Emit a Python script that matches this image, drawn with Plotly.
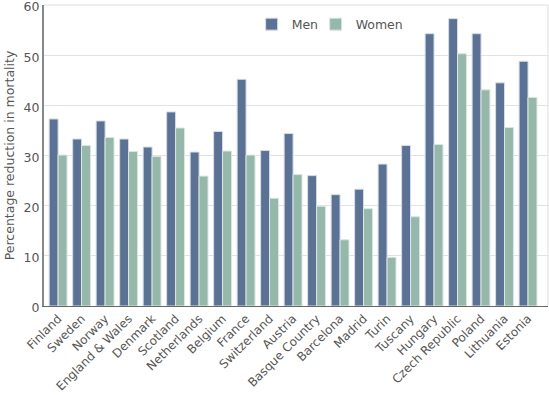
import plotly.graph_objects as go

countries = ["Finland", "Sweden", "Norway", "England & Wales", "Denmark", "Scotland",
             "Netherlands", "Belgium", "France", "Switzerland", "Austria", "Basque Country",
             "Barcelona", "Madrid", "Turin", "Tuscany", "Hungary", "Czech Republic",
             "Poland", "Lithuania", "Estonia"]
men = [37.3, 33.3, 36.9, 33.3, 31.7, 38.7, 30.7, 34.8, 45.2, 31.0, 34.4, 26.0,
       22.2, 23.3, 28.3, 32.0, 54.3, 57.3, 54.3, 44.5, 48.8]
women = [30.1, 32.0, 33.6, 30.8, 29.8, 35.5, 25.9, 30.9, 30.1, 21.5, 26.2, 19.9,
         13.2, 19.4, 9.7, 17.8, 32.2, 50.3, 43.1, 35.6, 41.6]
y_ticks = [0, 10, 20, 30, 40, 50, 60]

FONT = "DejaVu Sans, Verdana, sans-serif"
MEN_C = "#5b7295"
WOMEN_C = "#96b8ab"

fig = go.Figure()
fig.add_trace(go.Bar(name="Men", x=countries, y=men, legend="legend",
                     marker=dict(color=MEN_C, line=dict(color="#d6dde8", width=1))))
fig.add_trace(go.Bar(name="Women", x=countries, y=women, legend="legend2",
                     marker=dict(color=WOMEN_C, line=dict(color="#d9e6e1", width=1))))

leg_common = dict(orientation="h", y=0.985, xanchor="left", yanchor="top",
                  font=dict(size=12.5, color="#555555"), bgcolor="rgba(0,0,0,0)")

fig.update_layout(
    width=549, height=395,
    margin=dict(l=44, r=1, t=5, b=89, autoexpand=False),
    paper_bgcolor="white", plot_bgcolor="white",
    barmode="group", bargap=0.24, bargroupgap=0.0,
    font=dict(family=FONT, color="#555555"),
    showlegend=True,
    legend=dict(x=0.412, **leg_common),
    legend2=dict(x=0.539, **leg_common),
    xaxis=dict(range=[-0.6, 20.85], tickangle=-45, tickfont=dict(size=12, color="#555555"),
               showline=True, linecolor="#666666", linewidth=1, ticks="", showgrid=False,
               automargin=False, ticklabeloverflow="allow"),
    yaxis=dict(range=[0, 60.02], tickvals=y_ticks, tickfont=dict(size=12.5, color="#555555"),
               showline=True, linecolor="#888888", linewidth=2, gridcolor="#e2e2e2",
               gridwidth=1, ticks="", zeroline=False, automargin=False,
               ticklabeloverflow="allow", ticklabelshift=2,
               title=dict(text="Percentage reduction in mortality",
                          font=dict(size=12.5, color="#555555"), standoff=6)),
    shapes=[
        dict(type="line", xref="paper", yref="paper", x0=0, x1=1, y0=1, y1=1,
             line=dict(color="#dddddd", width=1)),
        dict(type="line", xref="paper", yref="paper", x0=1, x1=1, y0=0, y1=1,
             line=dict(color="#dddddd", width=1)),
    ],
)

fig.write_html("out.html", config={"displayModeBar": False},
               post_script="document.body.style.margin='0';document.body.style.overflow='hidden';")
